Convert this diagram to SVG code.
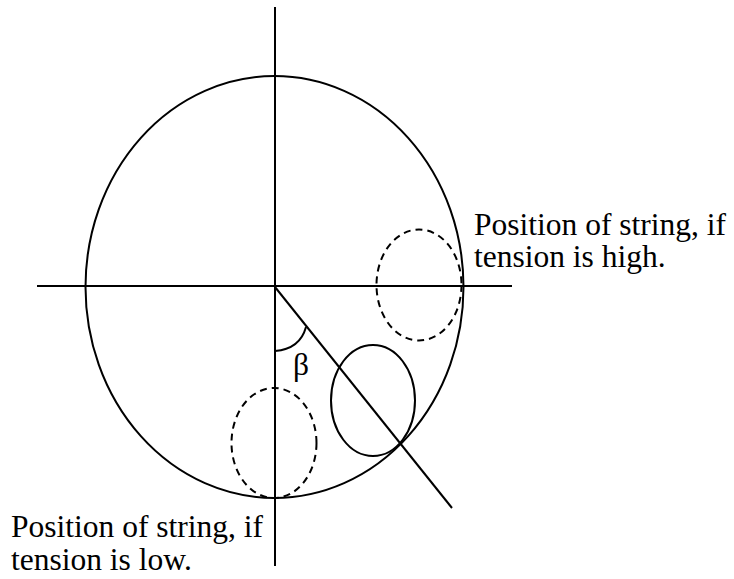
<svg xmlns="http://www.w3.org/2000/svg" width="734" height="579" viewBox="0 0 734 579">
<style>
.s{fill:none;stroke:#000;stroke-width:2}
.d{fill:none;stroke:#000;stroke-width:2;stroke-dasharray:7,5}
.t{font-family:"Liberation Serif","Times New Roman",serif;font-size:31.5px;fill:#000}
</style>
<rect width="734" height="579" fill="#fff"/>
<g id="outer-circle"><ellipse class="s" cx="274.5" cy="287" rx="189" ry="211"/></g>
<g id="axes">
<line class="s" x1="37" y1="286" x2="512" y2="286"/>
<line class="s" x1="275" y1="7" x2="275" y2="566"/>
<line class="s" x1="275" y1="287" x2="452" y2="508"/>
<path class="s" d="M275,351 Q300,349 306,327"/>
</g>
<g id="string-high"><ellipse class="d" cx="419" cy="285" rx="42.5" ry="55.5"/></g>
<g id="string-actual"><ellipse class="s" cx="373" cy="400.5" rx="42" ry="55.5"/></g>
<g id="string-low"><ellipse class="d" cx="274" cy="443" rx="42.5" ry="55"/></g>
<g id="labels">
<text class="t" x="293" y="375">β</text>
<text class="t" x="474" y="235">Position of string, if</text>
<text class="t" x="474" y="266.5">tension is high.</text>
<text class="t" x="11" y="537">Position of string, if</text>
<text class="t" x="11" y="569.5">tension is low.</text>
</g>
</svg>
